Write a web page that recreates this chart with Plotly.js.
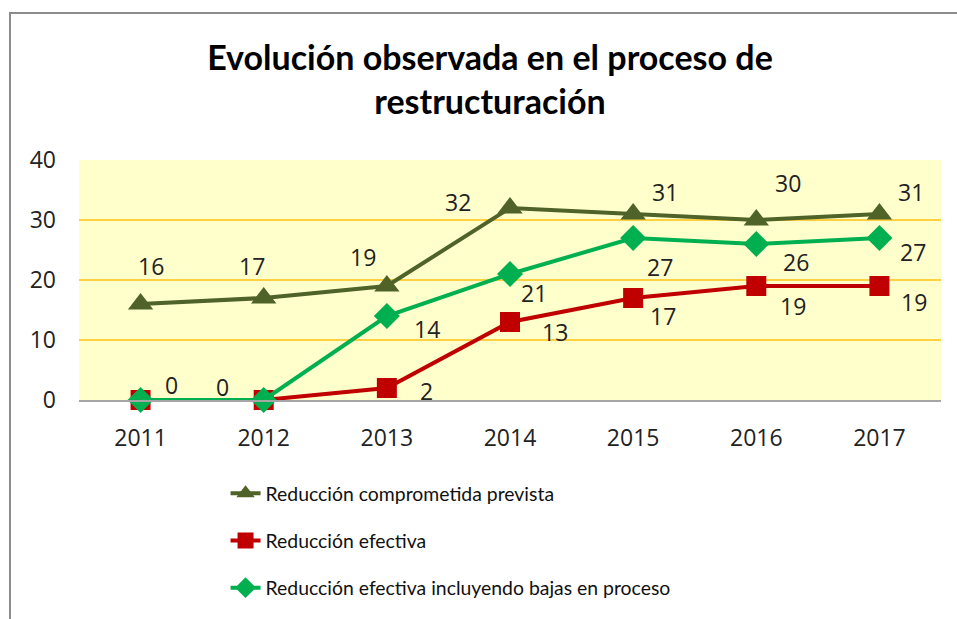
<!DOCTYPE html>
<html>
<head>
<meta charset="utf-8">
<script src="https://cdn.plot.ly/plotly-3.0.1.min.js"></script>
<style>
  html, body { margin: 0; padding: 0; background: #fff; }
  #chart { position: absolute; left: 0; top: 0; width: 957px; height: 619px; }
  #frame { position: absolute; left: 9px; top: 12px; width: 960px; height: 620px;
           border-left: 2px solid #8c8c8c; border-top: 2px solid #8c8c8c; pointer-events: none; }
</style>
</head>
<body>
<div id="chart"></div>
<div id="frame"></div>
<script>
const years = ['2011', '2012', '2013', '2014', '2015', '2016', '2017'];
const seriesNames = ['Reducción comprometida prevista', 'Reducción efectiva', 'Reducción efectiva incluyendo bajas en proceso'];
const comprometida = [16, 17, 19, 32, 31, 30, 31];
const efectiva = [0, 0, 2, 13, 17, 19, 19];
const efectivaBajas = [0, 0, 14, 21, 27, 26, 27];
const titleText = 'Evolución observada en el proceso de<br>restructuración';

// label pixel offsets (dx, dy down-positive); null = label hidden behind another
const offComprometida = [[10, -38], [-12, -32], [-24, -29], [-52, -6], [32, -22], [32, -37], [32, -22]];
const offEfectiva = [[31, -15], null, [40, 3], [45, 10], [30, 18], [37, 20], [35, 16]];
const offBajas = [null, [-41, -13], [40, 13], [24, 19], [27, 29], [40, 18], [34, 14]];

const colors = ['#4F6228', '#C00000', '#00B050'];
const symbols = ['triangle-up', 'square', 'diamond'];
const sizes = [22, 20, 20];
const allValues = [comprometida, efectiva, efectivaBajas];
const allOffsets = [offComprometida, offEfectiva, offBajas];

const traces = allValues.map((vals, i) => ({
  type: 'scatter', mode: 'lines+markers',
  x: years, y: vals, name: seriesNames[i], legendgroup: 'g' + i,
  line: { color: colors[i], width: 4 },
  marker: { symbol: symbols[i], size: sizes[i], color: colors[i] },
  cliponaxis: false, hoverinfo: 'x+y'
}));

const labelFont = () => ({ family: 'Open Sans, DejaVu Sans, sans-serif', size: 23, color: '#222' });
const annotations = [];
allValues.forEach((vals, i) => {
  vals.forEach((v, j) => {
    const o = allOffsets[i][j];
    if (!o) return;
    annotations.push({ x: j, y: v, xref: 'x', yref: 'y', text: String(v), showarrow: false,
      xshift: o[0], yshift: -o[1], font: labelFont() });
  });
});

const layout = {
  width: 957, height: 619,
  margin: { l: 79, r: 16, t: 160, b: 219, autoexpand: false },
  paper_bgcolor: 'rgba(0,0,0,0)',
  plot_bgcolor: '#FFFFCC',
  title: { text: titleText, x: 0.512, xanchor: 'center', y: 0.887, yanchor: 'top',
           font: { family: 'Lato, sans-serif', size: 34, color: '#000', weight: 'bold' } },
  xaxis: { type: 'category', range: [-0.5, 6.5], showgrid: false, showline: true, linecolor: '#A6A6A6', linewidth: 2,
           ticks: '', tickfont: labelFont(), ticklabelstandoff: 16, fixedrange: true },
  yaxis: { range: [0, 40], dtick: 10, showgrid: true, gridcolor: '#FFD040', gridwidth: 2, zeroline: false,
           showline: false, ticks: '', tickfont: labelFont(), ticklabelstandoff: 22, fixedrange: true },
  showlegend: true,
  legend: { x: 0.17, xanchor: 'left', y: -0.309, yanchor: 'top', orientation: 'v', tracegroupgap: 19,
            font: { family: 'Lato, sans-serif', size: 19.4, color: '#111' }, bgcolor: 'rgba(0,0,0,0)' },
  annotations: annotations
};

Plotly.newPlot('chart', traces, layout, { displayModeBar: false, staticPlot: true });
</script>
</body>
</html>
